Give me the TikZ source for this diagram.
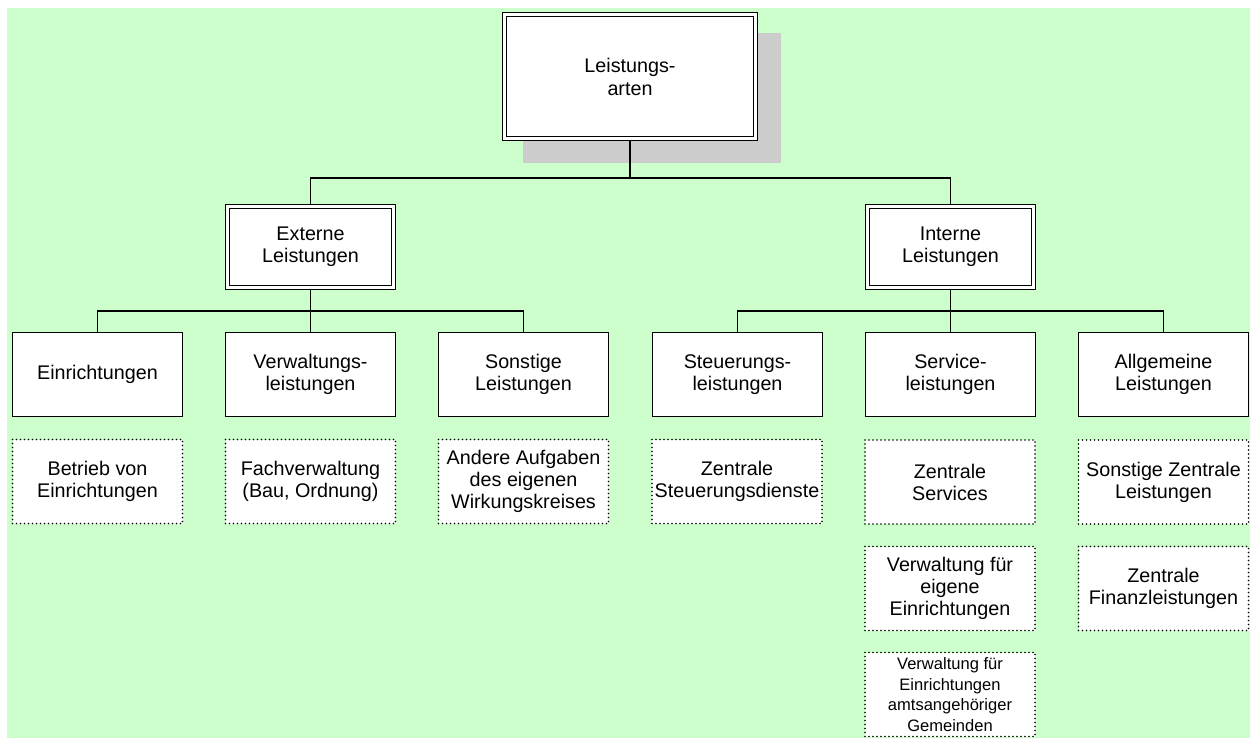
\documentclass[tikz,border=0pt]{standalone}
\usepackage{fontspec}
\setmainfont{Liberation Sans}
\usetikzlibrary{backgrounds}
\definecolor{paper}{HTML}{CCFFCC}
\definecolor{dropgray}{HTML}{CCCCCC}
\begin{document}
\begin{tikzpicture}[x=0.75pt,y=-0.75pt,
  every node/.style={font=\fontsize{14.8}{16.5}\selectfont, align=center, inner sep=0pt},
  headbox/.style={draw=black, line width=0.9pt, double=white, double distance=2pt, fill=white},
  unitbox/.style={draw=black, line width=1pt, fill=white, minimum width=127.25pt, minimum height=62.75pt},
  taskbox/.style={draw=black, line width=1.2pt, line cap=round, dash pattern=on 0pt off 3pt, fill=white,
                  minimum width=127.5pt, minimum height=63pt},
  link/.style={line width=1pt}]
\useasboundingbox (0,0) rectangle (1250,738);

% root
\node[headbox, minimum width=188.2pt, minimum height=92.95pt,
      font=\fontsize{14.8}{17.25}\selectfont] (root) at (630,76.5) {Leistungs-\\arten};

% second level
\node[headbox, minimum width=124.45pt, minimum height=60.7pt] (ext) at (310.5,247) {Externe\\Leistungen};
\node[headbox, minimum width=124.45pt, minimum height=60.7pt] (int) at (950.5,247) {Interne\\Leistungen};

% third level
\node[unitbox] (ein) at (97.5,374.5) {Einrichtungen};
\node[unitbox] (vwl) at (310.5,374.5) {Verwaltungs-\\leistungen};
\node[unitbox] (son) at (523.5,374.5) {Sonstige\\Leistungen};
\node[unitbox] (ste) at (737.5,374.5) {Steuerungs-\\leistungen};
\node[unitbox] (ser) at (950.5,374.5) {Service-\\leistungen};
\node[unitbox] (all) at (1163.5,374.5) {Allgemeine\\Leistungen};

% tasks
\node[taskbox] (t1) at (97.5,481.5) {Betrieb von\\Einrichtungen};
\node[taskbox] (t2) at (310.5,481.5) {Fachverwaltung\\(Bau, Ordnung)};
\node[taskbox] (t3) at (523.5,481.5) {Andere Aufgaben\\des eigenen\\Wirkungskreises};
\node[taskbox] (t4) at (737,481.5) {Zentrale\\Steuerungsdienste};
\node[taskbox] (t5) at (950,482) {Zentrale\\Services};
\node[taskbox] (t6) at (950,588.5) {Verwaltung für\\eigene\\Einrichtungen};
\node[taskbox, font=\fontsize{12.4}{15.4}\selectfont] (t7) at (950,694.5)
  {Verwaltung für\\Einrichtungen\\amtsangehöriger\\Gemeinden};
\node[taskbox] (t8) at (1163.5,482) {Sonstige Zentrale\\Leistungen};
\node[taskbox] (t9) at (1163.5,588.5) {Zentrale\\Finanzleistungen};

\coordinate (j0) at (630,178);
\coordinate (j1) at (310.5,311);
\coordinate (j2) at (950.5,311);

\begin{scope}[on background layer]
  \fill[paper] (7,8) rectangle (1250,738);
  \fill[dropgray] (523,33) rectangle (781,163);
  \draw[link] (root.south) -- (j0);
  \draw[link] (ext.north) |- (j0) -| (int.north);
  \draw[link] (ext.south) -- (vwl.north);
  \draw[link] (ein.north) |- (j1) -| (son.north);
  \draw[link] (int.south) -- (j2);
  \draw[link] (ste.north) |- (j2) -| (all.north);
  \draw[link] (j2) -- (ser.north);
\end{scope}
\end{tikzpicture}
\end{document}
